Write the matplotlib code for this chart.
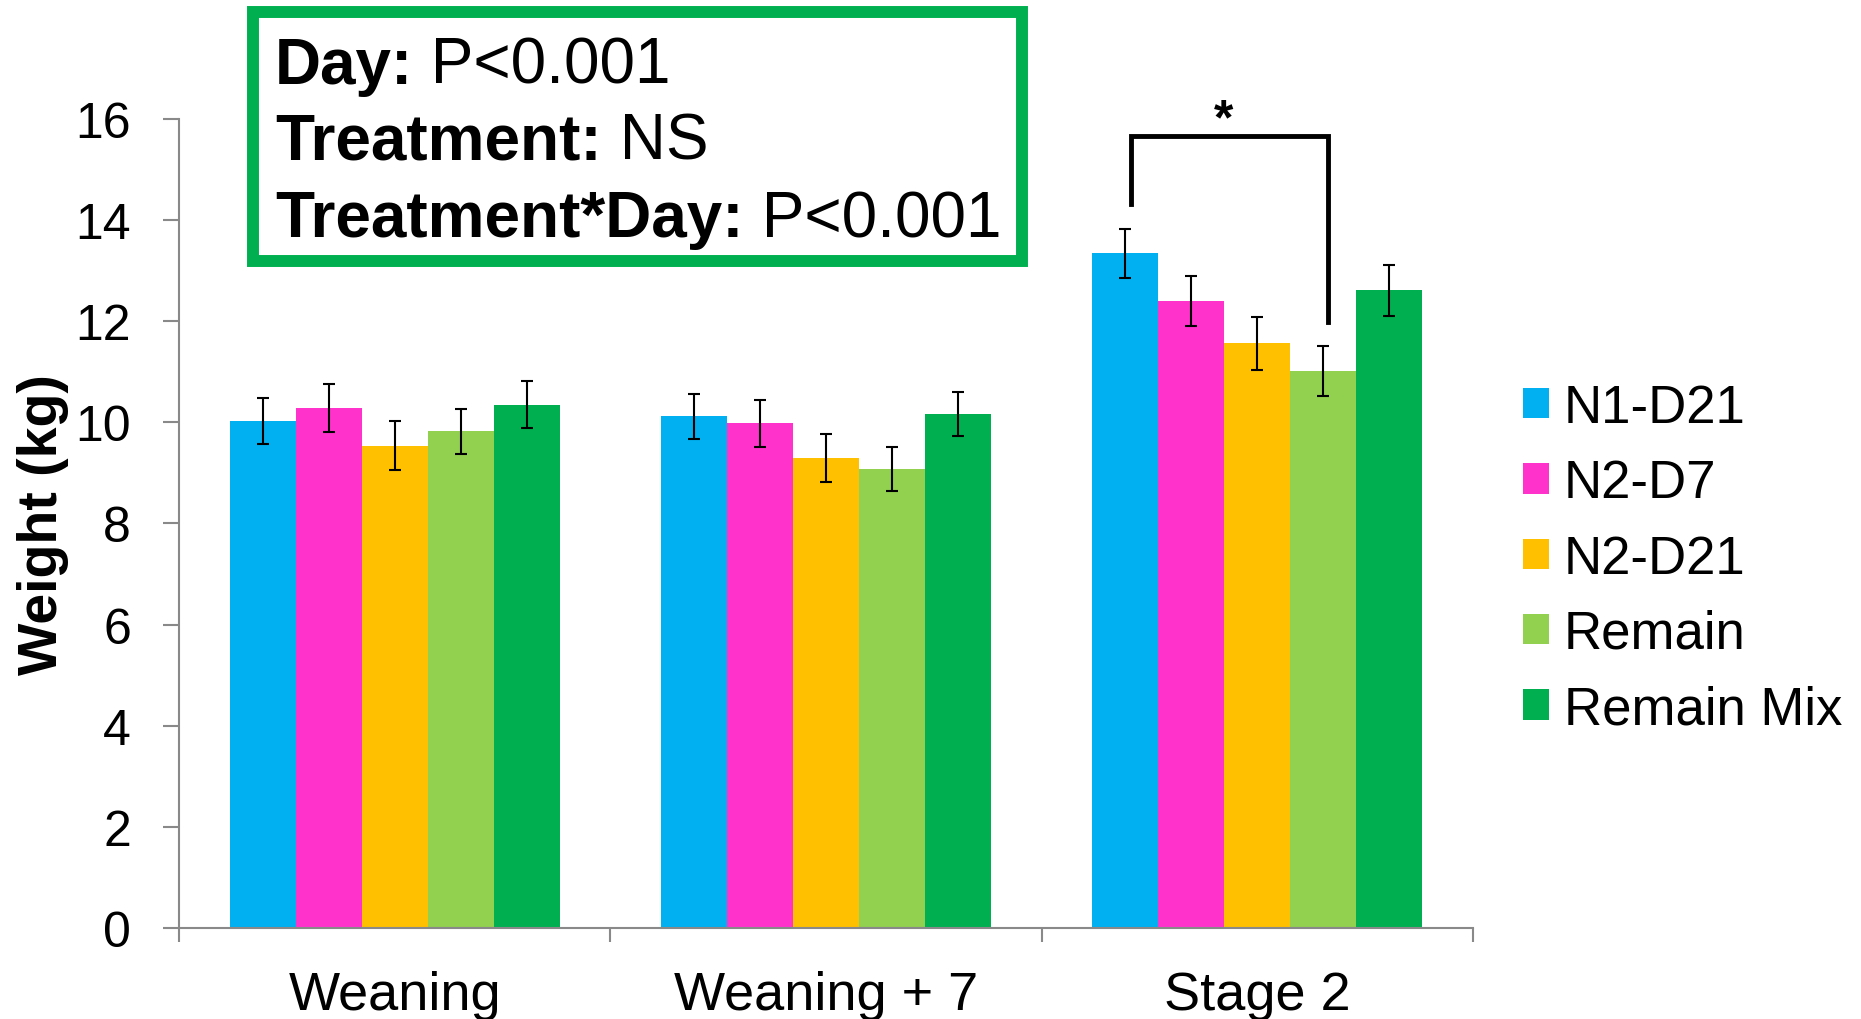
import numpy as np
import matplotlib.pyplot as plt
from matplotlib.patches import Rectangle

plt.rcParams['font.family'] = ['Liberation Sans', 'DejaVu Sans']

# data
days = ['Weaning', 'Weaning + 7', 'Stage 2']
treatments = ['N1-D21', 'N2-D7', 'N2-D21', 'Remain', 'Remain Mix']
colors = ['#00B0F0', '#FF33CC', '#FFC000', '#92D050', '#00B050']

means = {
    'N1-D21':     [10.03, 10.12, 13.34],
    'N2-D7':      [10.28, 9.98, 12.40],
    'N2-D21':     [9.54, 9.30, 11.56],
    'Remain':     [9.82, 9.08, 11.02],
    'Remain Mix': [10.35, 10.17, 12.61],
}
errors = {
    'N1-D21':     [0.46, 0.45, 0.48],
    'N2-D7':      [0.48, 0.46, 0.50],
    'N2-D21':     [0.48, 0.47, 0.52],
    'Remain':     [0.45, 0.44, 0.49],
    'Remain Mix': [0.46, 0.44, 0.50],
}

stats_lines = [('Day:', 'P<0.001'),
               ('Treatment:', 'NS'),
               ('Treatment*Day:', 'P<0.001')]

# significance bracket (Stage 2, N1-D21 vs Remain)
bracket_top = 15.66
bracket_left_end = 14.31
bracket_right_end = 11.99

fig = plt.figure(figsize=(18.61, 10.20), dpi=100)
ax = fig.add_axes([0.0962, 0.0892, 0.6953, 0.7932])

x = np.arange(1, len(days) + 1)
width = 0.153
centers = {}
for i, (name, col) in enumerate(zip(treatments, colors)):
    pos = x + (i - 2) * width
    centers[name] = pos
    ax.bar(pos, means[name], width, color=col, label=name, linewidth=0)
    ax.errorbar(pos, means[name], yerr=errors[name], fmt='none', ecolor='black',
                elinewidth=1.5, capsize=4.3, capthick=1.5)

ax.set_xlim(0.5, 3.5)
ax.set_ylim(0, 16)
ax.set_yticks(np.arange(0, 17, 2))
ax.set_xticks([0.5, 1.5, 2.5, 3.5])
ax.set_xticklabels([])
ax.set_xticks(x, minor=True)
ax.set_xticklabels(days, minor=True, fontsize=39)
ax.tick_params(axis='x', which='major', length=10, width=1.5, color='#898989', direction='out')
ax.tick_params(axis='x', which='minor', length=0, pad=30)
ax.tick_params(axis='y', length=11.5, width=1.5, color='#898989', direction='out',
               labelsize=36, pad=23)

for side in ['top', 'right']:
    ax.spines[side].set_visible(False)
for side in ['left', 'bottom']:
    ax.spines[side].set_color('#898989')
    ax.spines[side].set_linewidth(1.5)

ax.set_ylabel('Weight (kg)', fontsize=40, fontweight='bold')
ax.yaxis.set_label_coords(-0.085, 0.5)

# bracket
xl = centers['N1-D21'][2] + 0.012
xr = centers['Remain'][2] + 0.012
ax.plot([xl, xl, xr, xr], [bracket_left_end, bracket_top, bracket_top, bracket_right_end],
        color='black', lw=3.5, clip_on=False, solid_joinstyle='miter')
ax.text((xl + xr) / 2 - 0.014, bracket_top + 0.05, '*', fontsize=36, fontweight='bold',
        ha='center', va='baseline', clip_on=False)

# legend
fig.legend(loc='center left', bbox_to_anchor=(0.8184, 0.4514), frameon=False,
           fontsize=38, handlelength=0.5, handleheight=0.5, handletextpad=0.27,
           labelspacing=0.48, borderpad=0, borderaxespad=0)

# stats box
fig.patches.append(Rectangle((0.1359, 0.7431), 0.4132, 0.2441, transform=fig.transFigure,
                             fill=False, edgecolor='#00B050', linewidth=8.6))
baselines = [84, 160, 237]
for (bold, rest), yb in zip(stats_lines, baselines):
    t = fig.text(0.1478, 1 - yb / 1020, bold, fontsize=46, fontweight='bold', va='baseline')
    ax.annotate(' ' + rest, xy=(1, 0), xycoords=t, fontsize=46, va='bottom', ha='left',
                annotation_clip=False)

fig.savefig('out.png', dpi=100)
